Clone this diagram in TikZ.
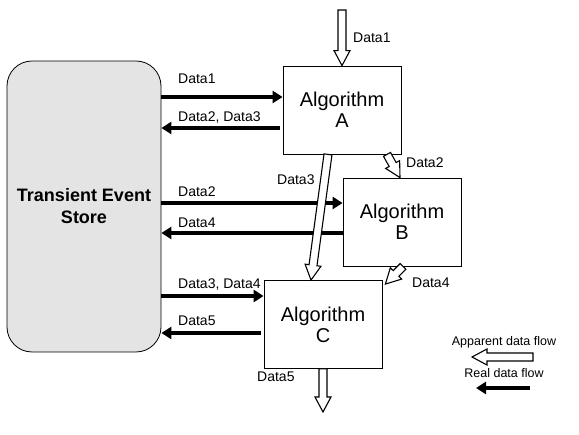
\documentclass[tikz,border=0pt]{standalone}
\usepackage{fontspec}
\setmainfont{Liberation Sans}
\usetikzlibrary{calc,arrows.meta}

\definecolor{storegray}{RGB}{228,228,228}

% hollow block arrow from #1 to #2
\newcommand{\flowarrow}[2]{%
	\path[flow] let \p1=($(#2)-(#1)$), \n1={atan2(\y1,\x1)}, \n2={veclen(\x1,\y1)} in
		[shift={(#1)},rotate=\n1]
		(0pt,-4pt) -- (\n2-15pt,-4pt) -- (\n2-15pt,-8pt) -- (\n2,0pt)
		-- (\n2-15pt,8pt) -- (\n2-15pt,4pt) -- (0pt,4pt) -- cycle;}

\begin{document}
\begin{tikzpicture}[x=1pt,y=-1pt,
		algo/.style={draw,line width=0.8pt,minimum width=118pt,minimum height=88pt,align=center,font=\fontsize{20}{21}\selectfont},
		lbl/.style={inner sep=0pt,font=\fontsize{14}{16}\selectfont},
		real/.style={line width=3.6pt,-{Triangle[length=10pt,width=12pt]}},
		flow/.style={draw,fill=white,line width=1.1pt,line join=miter}]
		\useasboundingbox (0,0) rectangle (579,435);
		
		\node[draw,line width=0.8pt,fill=storegray,rounded corners=25pt,minimum width=154pt,minimum height=291pt,
			align=center,font=\fontsize{18}{22}\selectfont\bfseries] (store) at (84,206.5) {Transient Event\\Store};
		
		\node[algo] (A) at (342,110) {Algorithm\\A};
		\node[algo] (B) at (402,222) {Algorithm\\B};
		\node[algo] (C) at (323,324.5) {Algorithm\\C};
		
		\coordinate (A-in) at ([yshift=13pt]A.west);
		\coordinate (A-out) at ([yshift=-18pt]A.west);
		\coordinate (B-in) at ([yshift=19pt]B.west);
		\coordinate (B-out) at ([yshift=-11pt]B.west);
		\coordinate (C-in) at ([yshift=28.5pt]C.west);
		\coordinate (C-out) at ([yshift=-8.5pt]C.west);
		
		\draw[real] (store.east |- A-in) -- (A-in);
		\draw[real,shorten <=3pt] (A-out) -- (store.east |- A-out);
		\draw[real] (store.east |- B-in) -- (B-in);
		\draw[real] (B-out) -- (store.east |- B-out);
		\draw[real] (store.east |- C-in) -- (C-in);
		\draw[real,shorten <=3pt] (C-out) -- (store.east |- C-out);
		
		\node[lbl,anchor=base west] (l1) at (178,84) {Data1};
		\node[lbl,anchor=base west] (l2) at (178,122) {Data2, Data3};
		\node[lbl,anchor=base west] (l3) at (178,197) {Data2};
		\node[lbl,anchor=base west] (l4) at (178,228) {Data4};
		\node[lbl,anchor=base west] (l5) at (178,289) {Data3, Data4};
		\node[lbl,anchor=base west] (l6) at (178,326) {Data5};
		
		\coordinate (src) at (342,10);
		\coordinate (A-d2) at ([xshift=45pt]A.south);
		\coordinate (B-d2) at ([xshift=-2pt]B.north);
		\coordinate (A-d3) at ([xshift=-14pt]A.south);
		\coordinate (C-d3) at ([xshift=-12pt]C.north);
		\coordinate (B-d4) at ([xshift=1pt]B.south);
		\coordinate (C-d4) at ([xshift=3pt,yshift=-4pt]C.north east);
		\coordinate (sink) at (323,412);
		
		\flowarrow{src}{A.north}
		\flowarrow{A-d2}{B-d2}
		\flowarrow{A-d3}{C-d3}
		\flowarrow{B-d4}{C-d4}
		\flowarrow{C.south}{sink}
		
		\node[lbl,anchor=base west] (f1) at (353,43) {Data1};
		\node[lbl,anchor=base west] (f2) at (406,168) {Data2};
		\node[lbl,anchor=base west] (f3) at (277,185) {Data3};
		\node[lbl,anchor=base west] (f4) at (412,288) {Data4};
		\node[lbl,anchor=base west] (f5) at (257,382) {Data5};
		
		% legend
		\node[lbl,anchor=base,font=\fontsize{12.5}{14}\selectfont] (app) at (504,346) {Apparent data flow};
		\node[lbl,anchor=base,font=\fontsize{12.5}{14}\selectfont] (rea) at (504,378) {Real data flow};
		\coordinate (app-s) at (533,357);
		\coordinate (app-e) at (472,357);
		\coordinate (rea-s) at (530,388);
		\coordinate (rea-e) at (476,388);
		\flowarrow{app-s}{app-e}
		\draw[real] (rea-s) -- (rea-e);
	\end{tikzpicture}
\end{document}
